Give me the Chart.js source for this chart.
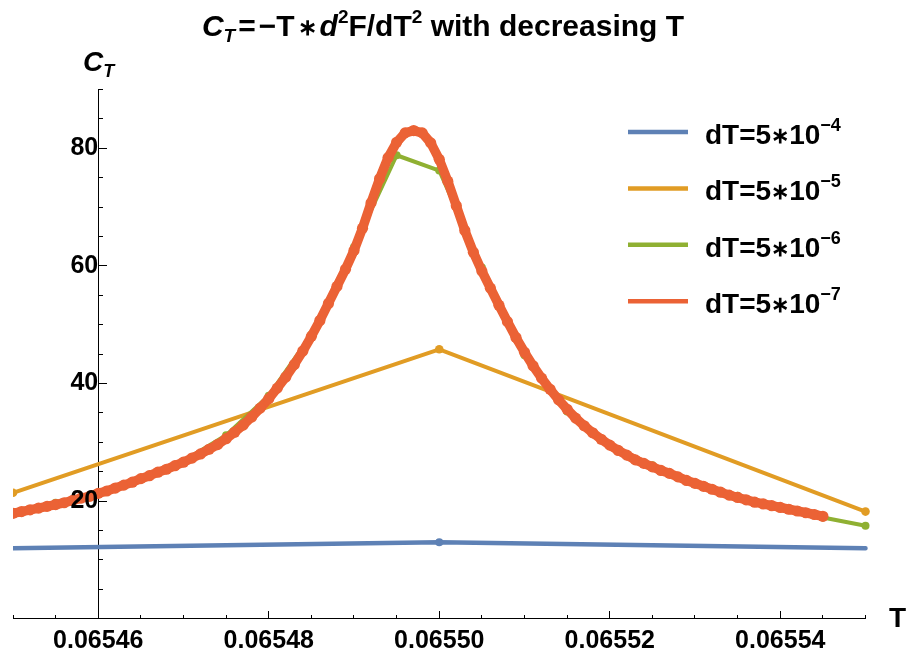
<!DOCTYPE html>
<html>
<head>
<meta charset="utf-8">
<script src="https://cdn.jsdelivr.net/npm/chart.js@4.4.1/dist/chart.umd.min.js"></script>
<style>
  body { margin: 0; background: #fff; }
  canvas { display: block; }
</style>
</head>
<body>
<canvas id="ctChart" width="906" height="658"></canvas>
<script>
// axis range and ticks
var tMin = 0.06545;
var tMax = 0.06555;
var xMajorTicks = [0.06546, 0.06548, 0.06550, 0.06552, 0.06554];
var xMinorStep = 0.000005;
var yMin = 0;
var yMax = 90;
var yMajorTicks = [20, 40, 60, 80];
var yMinorStep = 5;

// legend text: dT = 5*10^-n
var legendBase = 'dT=5';
var legendStar = '\u2217';
var legendTen = '10';
var legendExponents = ['\u22124', '\u22125', '\u22126', '\u22127'];

// dT = 5*10^-4
var blueT = [0.06545, 0.06550, 0.06555];
var blueC = [11.95, 12.97, 11.95];

// dT = 5*10^-5
var orangeT = [0.06545, 0.06550, 0.06555];
var orangeC = [21.4, 45.8, 18.2];

// dT = 5*10^-6, one value every 5e-6 starting at 0.06545
var greenStart = 0.06545;
var greenStep = 0.000005;
var greenC = [18.0, 19.7, 21.4, 23.7, 26.8, 31.2, 37.9, 48.3, 63.2, 78.8,
              76.2, 59.7, 44.8, 35.2, 29.5, 26.1, 23.0, 20.9, 19.0, 17.2, 15.8];

// dT = 5*10^-7, one value every 1e-6 starting at 0.06545
var redStart = 0.06545;
var redStep = 0.000001;
var redC = [17.9, 18.2, 18.5, 18.8, 19.1, 19.4, 19.7, 20.1, 20.5, 20.8,
            21.3, 21.7, 22.2, 22.7, 23.2, 23.8, 24.3, 24.9, 25.4, 26.0,
            26.6, 27.3, 28.0, 28.8, 29.6, 30.6, 31.7, 32.9, 34.3, 35.8,
            37.4, 39.2, 41.1, 43.2, 45.5, 48.0, 50.7, 53.6, 56.5, 59.4,
            62.6, 66.4, 70.7, 74.8, 78.4, 81.0, 82.6, 83.0, 82.6, 80.9,
            78.1, 74.4, 70.2, 66.0, 62.3, 59.1, 56.2, 53.3, 50.5, 47.8,
            45.3, 43.0, 40.9, 39.0, 37.2, 35.6, 34.1, 32.8, 31.6, 30.5,
            29.5, 28.6, 27.8, 27.0, 26.4, 25.8, 25.2, 24.7, 24.1, 23.5,
            23.0, 22.5, 22.0, 21.5, 21.0, 20.6, 20.2, 19.8, 19.5, 19.2,
            18.9, 18.6, 18.3, 18.0, 17.7, 17.4];

var FONT = "'Liberation Sans', Arial, sans-serif";

function pairs(xs, ys) {
    return ys.map(function (y, i) { return {x: xs[i], y: y}; });
}

function evenPairs(start, step, ys) {
    return ys.map(function (y, i) { return {x: start + i * step, y: y}; });
}

function stepTicks(min, max, step) {
    var out = [];
    var n = Math.round((max - min) / step);
    for (var i = 0; i <= n; i++) {
        out.push({value: min + i * step});
    }
    return out;
}

// draws a row of text pieces (font / vertical shift / extra gap) starting at x
function drawRuns(ctx, runs, x, y, align) {
    var total = 0;
    runs.forEach(function (r) {
        ctx.font = r.font;
        total += ctx.measureText(r.t).width + (r.gap || 0) * 2;
    });
    if (align === 'center') x -= total / 2;
    runs.forEach(function (r) {
        ctx.font = r.font;
        x += r.gap || 0;
        ctx.fillText(r.t, x, y + (r.dy || 0));
        x += ctx.measureText(r.t).width + (r.gap || 0);
    });
}

var textDecor = {
    id: 'textDecor',
    afterDraw: function (chart) {
        var ctx = chart.ctx;
        var big = 'bold 30px ' + FONT;
        var bigIt = 'italic bold 30px ' + FONT;
        var small = 'bold 19px ' + FONT;
        var smallIt = 'italic bold 19px ' + FONT;
        var star = 'bold 23px ' + FONT;
        ctx.save();
        ctx.fillStyle = '#000';
        ctx.textBaseline = 'alphabetic';
        ctx.textAlign = 'left';

        // title
        drawRuns(ctx, [
            {t: 'C', font: bigIt},
            {t: 'T', font: smallIt, dy: 6},
            {t: '=', font: big, gap: 3},
            {t: '\u2212T', font: big},
            {t: '\u2217', font: star, gap: 3, dy: -1},
            {t: 'd', font: bigIt},
            {t: '2', font: small, dy: -13},
            {t: 'F/dT', font: big},
            {t: '2', font: small, dy: -13},
            {t: ' with decreasing T', font: big}
        ], 443, 36, 'center');

        // axis labels
        drawRuns(ctx, [
            {t: 'C', font: 'italic bold 28px ' + FONT},
            {t: 'T', font: 'italic bold 18px ' + FONT, dy: 6}
        ], 83, 71, 'left');
        drawRuns(ctx, [{t: 'T', font: 'bold 28px ' + FONT}], 889, 627, 'left');

        // legend
        chart.data.datasets.forEach(function (ds, i) {
            var base = 144 + i * 56.4;
            ctx.strokeStyle = ds.borderColor;
            ctx.lineWidth = 4.5;
            ctx.beginPath();
            ctx.moveTo(628, base - 12);
            ctx.lineTo(688, base - 12);
            ctx.stroke();
            drawRuns(ctx, [
                {t: legendBase, font: 'bold 28px ' + FONT},
                {t: legendStar, font: 'bold 22px ' + FONT, dy: -1},
                {t: legendTen, font: 'bold 28px ' + FONT},
                {t: legendExponents[i], font: 'bold 18px ' + FONT, dy: -13}
            ], 705, base, 'left');
        });
        ctx.restore();
    }
};

var tickFont = {family: FONT, size: 25, weight: 'bold'};

new Chart(document.getElementById('ctChart'), {
    type: 'line',
    data: {
        datasets: [{
            label: 'dT=5e-4',
            data: pairs(blueT, blueC),
            borderColor: '#5E81B5',
            backgroundColor: '#5E81B5',
            borderWidth: 4.5,
            pointRadius: [0, 4, 0],
            pointBorderWidth: 0,
            order: 4
        }, {
            label: 'dT=5e-5',
            data: pairs(orangeT, orangeC),
            borderColor: '#E19C24',
            backgroundColor: '#E19C24',
            borderWidth: 4,
            pointRadius: 4.3,
            pointBorderWidth: 0,
            order: 3
        }, {
            label: 'dT=5e-6',
            data: evenPairs(greenStart, greenStep, greenC),
            borderColor: '#8FB032',
            backgroundColor: '#8FB032',
            borderWidth: 4,
            pointRadius: 4,
            pointBorderWidth: 0,
            order: 2
        }, {
            label: 'dT=5e-7',
            data: evenPairs(redStart, redStep, redC),
            borderColor: '#EB6235',
            backgroundColor: '#EB6235',
            borderWidth: 9.5,
            pointRadius: 5.6,
            pointBorderWidth: 0,
            order: 1
        }]
    },
    options: {
        responsive: false,
        animation: false,
        devicePixelRatio: 1,
        clip: {left: 0, top: 8, right: 8, bottom: 8},
        elements: {
            line: {tension: 0, borderJoinStyle: 'round', borderCapStyle: 'round'},
            point: {borderWidth: 0, hoverRadius: 0}
        },
        layout: {padding: {left: 13, right: 40.5, top: 89.4, bottom: 39.4}},
        plugins: {
            legend: {display: false},
            tooltip: {enabled: false},
            title: {display: false}
        },
        scales: {
            x: {
                type: 'linear',
                min: tMin,
                max: tMax,
                position: {y: 0},
                afterBuildTicks: function (scale) {
                    scale.ticks = xMajorTicks.map(function (v) { return {value: v}; });
                },
                grid: {drawOnChartArea: false, tickLength: -8, tickColor: '#000', tickWidth: 1},
                border: {display: true, color: '#000', width: 1},
                ticks: {
                    font: tickFont, color: '#000', padding: 16,
                    autoSkip: false, maxRotation: 0,
                    callback: function (v) { return v.toFixed(5); }
                }
            },
            xMinor: {
                type: 'linear',
                axis: 'x',
                min: tMin,
                max: tMax,
                position: {y: 0},
                afterBuildTicks: function (scale) {
                    scale.ticks = stepTicks(tMin, tMax, xMinorStep);
                },
                grid: {drawOnChartArea: false, tickLength: -4, tickColor: '#000', tickWidth: 1},
                border: {display: false},
                ticks: {display: false}
            },
            y: {
                type: 'linear',
                min: yMin,
                max: yMax,
                position: {x: 0.06546},
                afterBuildTicks: function (scale) {
                    scale.ticks = yMajorTicks.map(function (v) { return {value: v}; });
                },
                grid: {drawOnChartArea: false, tickLength: -9, tickColor: '#000', tickWidth: 1},
                border: {display: true, color: '#000', width: 1},
                ticks: {font: tickFont, color: '#000', padding: 20, z: 1}
            },
            yMinor: {
                type: 'linear',
                axis: 'y',
                min: yMin,
                max: yMax,
                position: {x: 0.06546},
                afterBuildTicks: function (scale) {
                    scale.ticks = stepTicks(yMin, yMax, yMinorStep);
                },
                grid: {drawOnChartArea: false, tickLength: -5, tickColor: '#000', tickWidth: 1},
                border: {display: false},
                ticks: {display: false}
            }
        }
    },
    plugins: [textDecor]
});
</script>
</body>
</html>
